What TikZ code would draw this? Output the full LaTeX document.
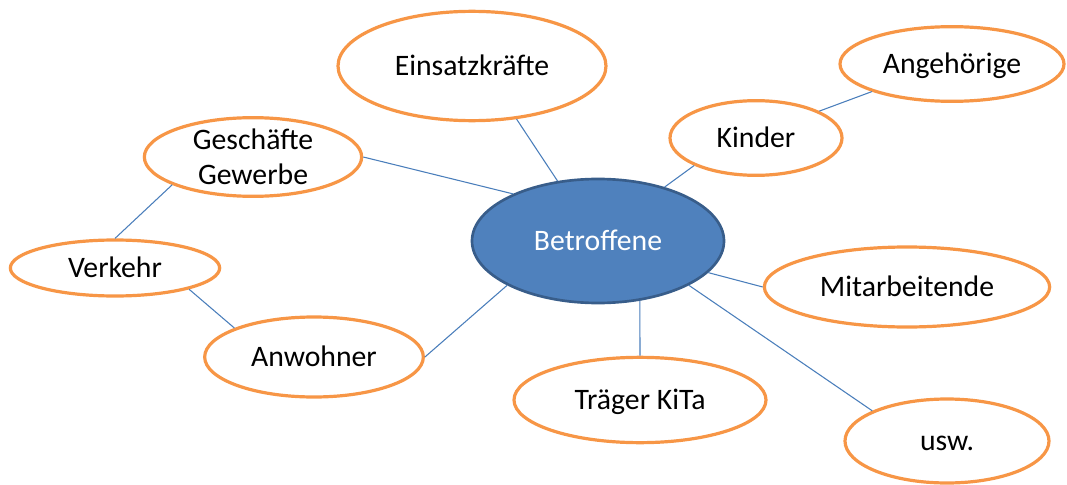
\documentclass[tikz,border=0pt]{standalone}
\usepackage{fontspec}
\setmainfont{Carlito}
\usetikzlibrary{shapes.geometric}
\definecolor{borange}{HTML}{F79646}
\definecolor{lblue}{HTML}{4A7EBB}
\definecolor{cfill}{HTML}{4F81BD}
\definecolor{cborder}{HTML}{385D8A}
\tikzset{
  bubble/.style={ellipse, draw=borange, line width=2.4pt, fill=white, inner sep=0pt,
    font=\fontsize{22.3}{26}\selectfont, text=black, align=center},
  oneline/.style={text height=17.8pt, text depth=3.1pt},
  center bubble/.style={ellipse, draw=cborder, line width=2pt, fill=cfill, inner sep=0pt,
    font=\fontsize{22.3}{26}\selectfont, text=white, text height=17.8pt, text depth=3.1pt},
  link/.style={draw=lblue, line width=0.8pt}
}
\begin{document}
\begin{tikzpicture}[x=0.75pt, y=-0.75pt]
\useasboundingbox (0,0) rectangle (1067,485);
\node[center bubble, minimum width=189pt, minimum height=93pt] (betr) at (598,241) {Betroffene};
\node[bubble, oneline, minimum width=201pt, minimum height=82pt] (einsatz) at (472,66) {Einsatzkräfte};
\node[bubble, minimum width=163pt, minimum height=59pt] (gesch) at (253,157) {Geschäfte\\Gewerbe};
\node[bubble, oneline, minimum width=157pt, minimum height=42pt] (verkehr) at (115,268) {Verkehr};
\node[bubble, oneline, minimum width=164pt, minimum height=60pt] (anw) at (314,357) {Anwohner};
\node[bubble, oneline, minimum width=189pt, minimum height=64pt] (traeger) at (640,400) {Träger KiTa};
\node[bubble, oneline, minimum width=214pt, minimum height=60pt] (mitarb) at (907,287) {Mitarbeitende};
\node[bubble, oneline, minimum width=153pt, minimum height=63pt] (usw) at (947,441) {usw.};
\node[bubble, oneline, minimum width=129pt, minimum height=56pt] (kinder) at (756,138) {Kinder};
\node[bubble, oneline, minimum width=168pt, minimum height=56pt] (angeh) at (952,64) {Angehörige};
\draw[link] (betr.124) -- (einsatz.310);
\draw[link] (betr.151.6) -- (gesch.0);
\draw[link] (gesch.199.3) -- (verkehr.90);
\draw[link] (verkehr.344.7) -- (anw.160);
\draw[link] (anw.0) -- (betr.206);
\draw[link] (betr.305.5) -- (traeger.90);
\draw[link] (betr.344.5) -- (mitarb.180);
\draw[link] (betr.334) -- (usw.158.5);
\draw[link] (betr.39.6) -- (kinder.204);
\draw[link] (kinder.23.9) -- (angeh.199.3);
\end{tikzpicture}
\end{document}
